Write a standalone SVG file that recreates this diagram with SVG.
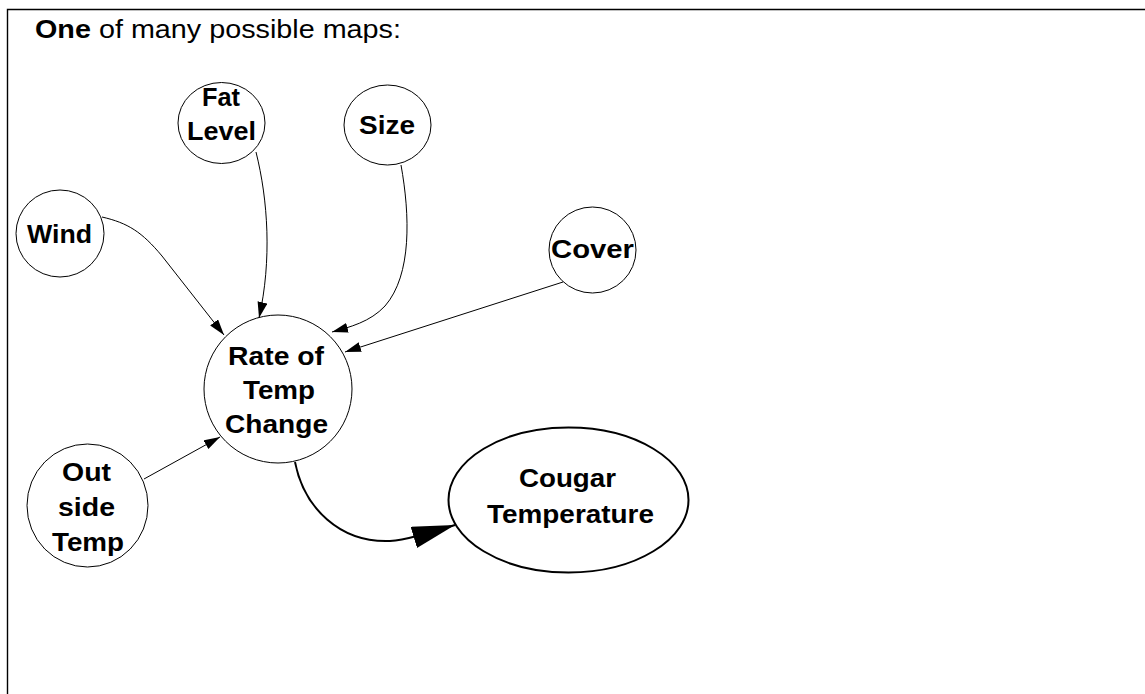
<svg xmlns="http://www.w3.org/2000/svg" width="1145" height="694" viewBox="0 0 1145 694">
<style>
.node{fill:#fff;stroke:#000;stroke-width:1}
.main{fill:#fff;stroke:#000;stroke-width:2}
.lbl{font-family:"Liberation Sans",Arial,sans-serif;font-size:26px;font-weight:bold;fill:#000;text-anchor:middle}
.title{font-family:"Liberation Sans",Arial,sans-serif;font-size:26px;fill:#000}
.edge{fill:none;stroke:#000;stroke-width:1}
.thick{fill:none;stroke:#000;stroke-width:2}
</style>
<defs>
<marker id="arr" markerUnits="userSpaceOnUse" markerWidth="17" markerHeight="11" refX="16" refY="5" orient="auto">
<path d="M0,0 L16,5 L0,10 z" fill="#000"/>
</marker>
<marker id="big" markerUnits="userSpaceOnUse" markerWidth="44" markerHeight="23" refX="43" refY="11" orient="auto">
<path d="M0,0 L43,11 L0,22 z" fill="#000"/>
</marker>
</defs>
<rect x="0" y="0" width="1145" height="694" fill="#fff"/>
<path d="M7.5,694 V9.5 H1145" fill="none" stroke="#000" stroke-width="1.4"/>
<text class="title" x="35" y="38" textLength="366" lengthAdjust="spacingAndGlyphs"><tspan font-weight="bold">One</tspan> of many possible maps:</text>
<g id="connectors">
<path class="edge" d="M102,217 C128,223 142,232 162,256 L224,335" marker-end="url(#arr)"/>
<path class="edge" d="M256,152 C268,200 272,260 259,318" marker-end="url(#arr)"/>
<path class="edge" d="M401,165 C410,215 412,275 385,306 C370,322 350,327 332,332" marker-end="url(#arr)"/>
<path class="edge" d="M563,282 L345,352" marker-end="url(#arr)"/>
<path class="edge" d="M144,479 L220,437" marker-end="url(#arr)"/>
<path class="thick" d="M295,462 C304,508 340,543 390,541 C405,540 425,534 455,525" marker-end="url(#big)"/>
</g>
<g id="fat-level">
<ellipse class="node" cx="221.5" cy="123" rx="43.5" ry="40.5"/>
<text class="lbl" x="221" y="106" textLength="38" lengthAdjust="spacingAndGlyphs">Fat</text>
<text class="lbl" x="221.5" y="140" textLength="69" lengthAdjust="spacingAndGlyphs">Level</text>
</g>
<g id="size">
<ellipse class="node" cx="387.5" cy="125" rx="43.5" ry="40"/>
<text class="lbl" x="387" y="134" textLength="56" lengthAdjust="spacingAndGlyphs">Size</text>
</g>
<g id="wind">
<ellipse class="node" cx="60" cy="233.5" rx="44" ry="43.5"/>
<text class="lbl" x="59.5" y="243" textLength="65" lengthAdjust="spacingAndGlyphs">Wind</text>
</g>
<g id="cover">
<ellipse class="node" cx="592.5" cy="250" rx="43.5" ry="43"/>
<text class="lbl" x="592.5" y="258" textLength="83" lengthAdjust="spacingAndGlyphs">Cover</text>
</g>
<g id="rate">
<circle class="node" cx="278" cy="389" r="74"/>
<text class="lbl" x="276" y="365" textLength="96" lengthAdjust="spacingAndGlyphs">Rate of</text>
<text class="lbl" x="279" y="399" textLength="72" lengthAdjust="spacingAndGlyphs">Temp</text>
<text class="lbl" x="276.5" y="433" textLength="103" lengthAdjust="spacingAndGlyphs">Change</text>
</g>
<g id="outside">
<ellipse class="node" cx="87.5" cy="505.5" rx="60.5" ry="61.5"/>
<text class="lbl" x="86.5" y="481" textLength="49" lengthAdjust="spacingAndGlyphs">Out</text>
<text class="lbl" x="86.5" y="516" textLength="57" lengthAdjust="spacingAndGlyphs">side</text>
<text class="lbl" x="88" y="551" textLength="72" lengthAdjust="spacingAndGlyphs">Temp</text>
</g>
<g id="cougar">
<ellipse class="main" cx="568.5" cy="500" rx="120" ry="72.5"/>
<text class="lbl" x="567.5" y="487" textLength="97" lengthAdjust="spacingAndGlyphs">Cougar</text>
<text class="lbl" x="570.5" y="523" textLength="167" lengthAdjust="spacingAndGlyphs">Temperature</text>
</g>
</svg>
